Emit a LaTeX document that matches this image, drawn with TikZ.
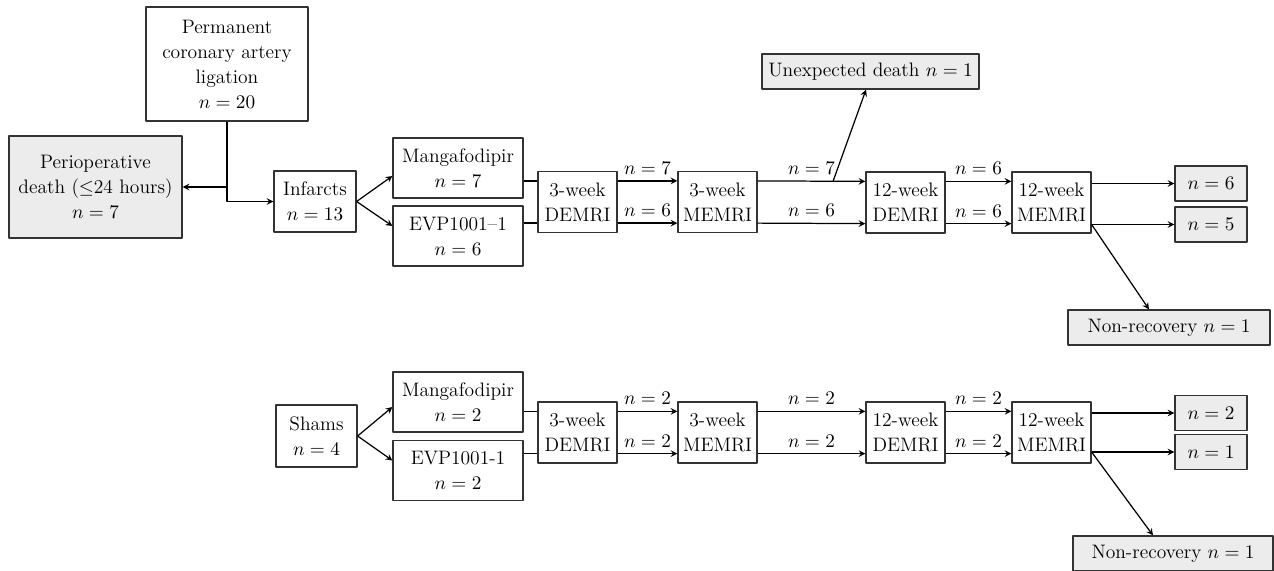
\documentclass[tikz,border=0pt]{standalone}
\usetikzlibrary{calc}
\begin{document}
\begin{tikzpicture}[x=0.02cm,y=-0.02cm,>=stealth,font=\fontsize{11.1}{14.2}\selectfont,line join=round,
	box/.style={draw=black!80,line width=0.7pt,align=center,inner sep=1pt},
	stepbox/.style={box,minimum width=1.58cm,minimum height=1.22cm},
	armbox/.style={box,minimum width=2.6cm,minimum height=1.2cm},
	outbox/.style={box,fill=gray!15,minimum width=1.44cm,minimum height=0.7cm},
	endbox/.style={box,fill=gray!15,minimum height=0.7cm},
	every path/.append style={line width=0.7pt}]
	\useasboundingbox (0,0) rectangle (1274,571);
	% infarct group
	\node[box,minimum width=3.24cm,minimum height=2.28cm] (lig) at (227,64) {Permanent\\coronary artery\\ligation\\$n=20$};
	\node[box,fill=gray!15,minimum width=3.46cm,minimum height=2.04cm] (peri) at (95.5,187) {Perioperative\\death ($\leq$24 hours)\\$n=7$};
	\node[box,minimum width=1.64cm,minimum height=1.22cm] (inf) at (315,201.5) {Infarcts\\$n=13$};
	\node[armbox] (mangaI) at (458,168) {Mangafodipir\\$n=7$};
	\node[armbox] (evpI) at (458,236) {EVP1001--1\\$n=6$};
	\node[stepbox] (dI3) at (577.5,202) {3-week\\DEMRI};
	\node[stepbox] (mI3) at (717.5,202) {3-week\\MEMRI};
	\node[stepbox] (dI12) at (905.5,202.5) {12-week\\DEMRI};
	\node[stepbox] (mI12) at (1051.5,202.5) {12-week\\MEMRI};
	\node[outbox] (okI1) at (1211,183.5) {$n=6$};
	\node[outbox] (okI2) at (1211,224.5) {$n=5$};
	\node[endbox,minimum width=4.34cm] (died) at (870.5,71.5) {Unexpected death $n=1$};
	\node[endbox,minimum width=4.04cm] (lostI) at (1169,327.5) {Non-recovery $n=1$};
	% sham group
	\node[box,minimum width=1.62cm,minimum height=1.24cm] (sham) at (316.5,436) {Shams\\$n=4$};
	\node[armbox] (mangaS) at (458,402) {Mangafodipir\\$n=2$};
	\node[armbox] (evpS) at (458,470.5) {EVP1001-1\\$n=2$};
	\node[stepbox] (dS3) at (577.5,432.5) {3-week\\DEMRI};
	\node[stepbox] (mS3) at (717.5,432.5) {3-week\\MEMRI};
	\node[stepbox] (dS12) at (905.5,432.5) {12-week\\DEMRI};
	\node[stepbox] (mS12) at (1051.5,432.5) {12-week\\MEMRI};
	\node[outbox] (okS1) at (1211,413) {$n=2$};
	\node[outbox] (okS2) at (1211,452) {$n=1$};
	\node[endbox,minimum width=4cm] (lostS) at (1173,553.5) {Non-recovery $n=1$};
	
	\draw[->] (lig.south) |- (inf.west);
	\draw[->] (lig.south |- peri.east) -- (peri.east);
	\draw[->] (inf.east) -- ([yshift=-0.16cm]mangaI.west);
	\draw[->] (inf.east) -- ([yshift=0.2cm]evpI.west);
	\draw[->] (sham.east) -- ([yshift=-0.1cm]mangaS.west);
	\draw[->] (sham.east) -- ([yshift=0.2cm]evpS.west);
	\foreach \g in {I,S}{
		\draw ([yshift=-0.2cm]manga\g.east |- d\g3.north west) -- ([yshift=-0.2cm]d\g3.north west);
		\draw ([yshift=0.2cm]evp\g.east |- d\g3.south west) -- ([yshift=0.2cm]d\g3.south west);
		\draw[->] (m\g12.east |- ok\g1.west) -- (ok\g1.west);
		\draw[->] (m\g12.east |- ok\g2.west) -- (ok\g2.west);
		\draw[->] (m\g12.east |- ok\g2.west) -- ([xshift=-0.4cm]lost\g.north);
	}
	\foreach \a/\b/\p/\q in {dI3/mI3/7/6, mI3/dI12/7/6, dI12/mI12/6/6, dS3/mS3/2/2, mS3/dS12/2/2, dS12/mS12/2/2}{
		\draw[->] ([yshift=-0.2cm]\a.north east) -- node[above]{$n=\p$} coordinate[pos=0.7] (u\a) ([yshift=-0.2cm]\b.north west);
		\draw[->] ([yshift=0.2cm]\a.south east) -- node[above]{$n=\q$} ([yshift=0.2cm]\b.south west);
	}
	\draw[->] (umI3) -- ([xshift=-0.09cm]died.south);
\end{tikzpicture}
\end{document}
